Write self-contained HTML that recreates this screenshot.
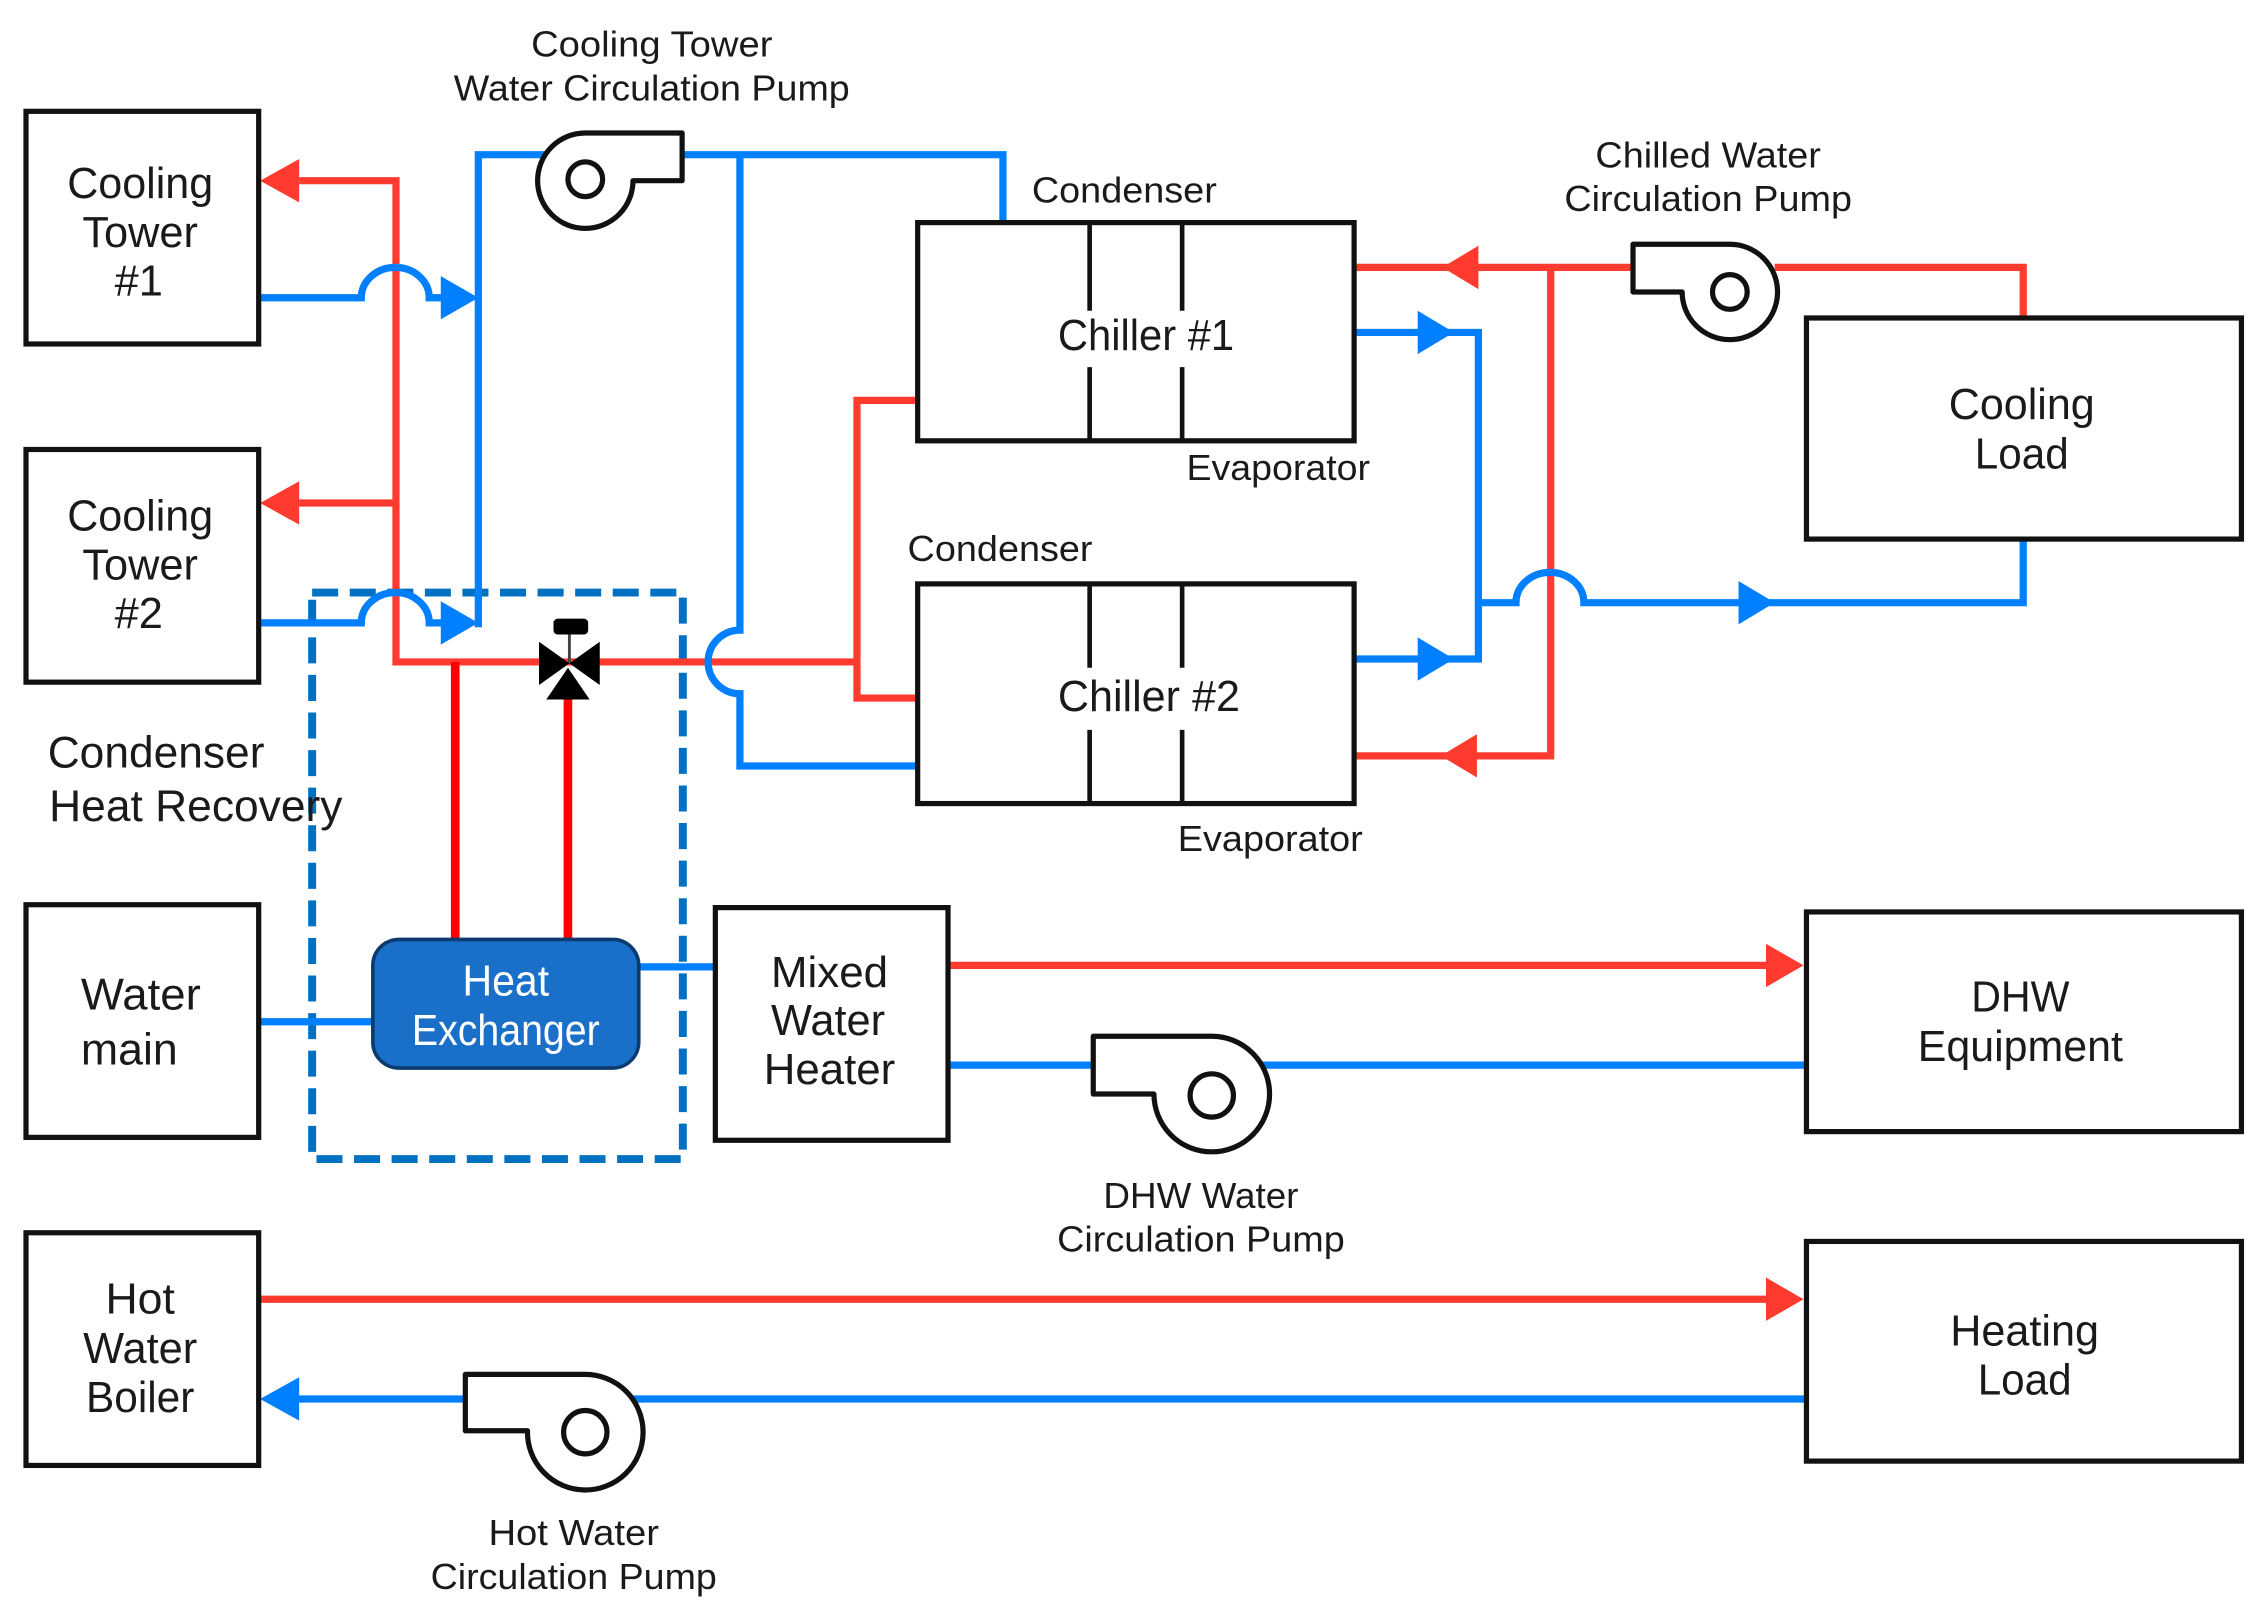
<!DOCTYPE html>
<html>
<head>
<meta charset="utf-8">
<style>
html,body{margin:0;padding:0;background:#fff;}
svg{display:block;}
text{font-family:"Liberation Sans",sans-serif;fill:#1a1a1a;}
.l{font-size:30px;text-anchor:middle;}
.s{font-size:25px;text-anchor:middle;}
.b{fill:#fff;stroke:#111;stroke-width:3.6;}
.blue{fill:none;stroke:#0080ff;stroke-width:5;stroke-linejoin:miter;}
.red{fill:none;stroke:#ff3b30;stroke-width:5;stroke-linejoin:miter;}
.tb{fill:#0080ff;}
.tr{fill:#ff3b30;}
.p{fill:#fff;stroke:#111;stroke-width:3.6;stroke-linejoin:round;}
</style>
</head>
<body>
<svg width="2266" height="1623" viewBox="0 0 1568 1123" xmlns="http://www.w3.org/2000/svg">
<rect x="0" y="0" width="1568" height="1123" fill="#fff"/>

<!-- dashed region -->
<rect x="216" y="410" width="256.500" height="392" fill="none" stroke="#0070c0" stroke-width="5.5" stroke-dasharray="18 8"/>

<!-- red pipes -->
<path class="red" d="M207,125 H274 V458 H593 M207,348 H274 M635,277 H593 V483 H635"/>
<path class="red" d="M937,185 H1130 M1228,185 H1400 V220 M1073,185 V523 H937"/>
<path class="red" d="M656,668 H1224 M179,899 H1224"/>
<path fill="none" stroke="#ff0000" stroke-width="6" d="M315,458 V650 M393,480 V650"/>

<!-- blue pipes -->
<path class="blue" d="M179,206 H250 A23.5,21 0 0 1 297,206 H307"/>
<path class="blue" d="M179,431 H250 A23.5,21 0 0 1 297,431 H307"/>
<path class="blue" d="M331,434 V107 H380 M465,107 H694 V154"/>
<path class="blue" d="M512,107 V436 A22,22 0 0 0 512,480 V530 H635"/>
<path class="blue" d="M937,230 H1023 V456 H937"/>
<path class="blue" d="M1023,417 H1049 A23.5,21 0 0 1 1096,417 H1400 V373"/>
<path class="blue" d="M656,737 H760 M870,737 H1250"/>
<path class="blue" d="M442,669 H495 M179,707 H258"/>
<path class="blue" d="M1250,968 H430 M330,968 H205"/>

<!-- arrowheads -->
<polygon class="tr" points="180,125 207,110 207,140"/>
<polygon class="tr" points="180,348 207,333 207,363"/>
<polygon class="tr" points="998,185 1023,170 1023,200"/>
<polygon class="tr" points="997,523 1022,508 1022,538"/>
<polygon class="tr" points="1248,668 1222,653 1222,683"/>
<polygon class="tr" points="1248,899 1222,884 1222,914"/>
<polygon class="tb" points="331,206 305,191 305,221"/>
<polygon class="tb" points="331,431 305,416 305,446"/>
<polygon class="tb" points="1006,230 981,215 981,245"/>
<polygon class="tb" points="1006,456 981,441 981,471"/>
<polygon class="tb" points="1228,417 1203,402 1203,432"/>
<polygon class="tb" points="180,968 207,953 207,983"/>

<!-- boxes -->
<rect class="b" x="18" y="77" width="161" height="161"/>
<rect class="b" x="18" y="311" width="161" height="161"/>
<rect class="b" x="18" y="626" width="161" height="161"/>
<rect class="b" x="18" y="853" width="161" height="161"/>
<rect class="b" x="495" y="628" width="161" height="161"/>
<rect class="b" x="635" y="154" width="302" height="151"/>
<rect class="b" x="635" y="404" width="302" height="152"/>
<rect class="b" x="1250" y="220" width="301" height="153"/>
<rect class="b" x="1250" y="631" width="301" height="152"/>
<rect class="b" x="1250" y="859" width="301" height="152"/>
<path fill="none" stroke="#111" stroke-width="3.2" d="M754,154 V215 M754,254 V305 M818,154 V215 M818,254 V305 M754,404 V462 M754,505 V556 M818,404 V462 M818,505 V556"/>

<!-- heat exchanger -->
<rect x="258" y="650" width="184" height="89" rx="18" ry="18" fill="#1a70c8" stroke="#0b3a6e" stroke-width="2.5"/>

<!-- valve -->
<line x1="394" y1="438" x2="394" y2="459" stroke="#444" stroke-width="2"/>
<rect x="383" y="428" width="24" height="11" rx="3" fill="#000"/>
<polygon points="373,444 373,474 394,459" fill="#000"/>
<polygon points="415,444 415,474 394,459" fill="#000"/>
<polygon points="378,484 408,484 393,462" fill="#000"/>

<!-- pumps -->
<path class="p" d="M405,92 H472 V125 H438 A33,33 0 1 1 405,92 Z"/>
<circle cx="405" cy="124" r="12" fill="#fff" stroke="#111" stroke-width="3.6"/>
<path class="p" d="M1197,169 H1130 V202 H1164 A33,33 0 1 0 1197,169 Z"/>
<circle cx="1197" cy="202" r="12" fill="#fff" stroke="#111" stroke-width="3.6"/>
<path class="p" d="M838.500,717 H756.500 V757 H798.500 A40,40 0 1 0 838.500,717 Z"/>
<circle cx="838.500" cy="758" r="15" fill="#fff" stroke="#111" stroke-width="3.6"/>
<path class="p" d="M405,951 H322 V990 H365 A40,40 0 1 0 405,951 Z"/>
<circle cx="405" cy="991" r="15" fill="#fff" stroke="#111" stroke-width="3.6"/>

<!-- labels -->
<text class="l" x="97" y="137" textLength="101" lengthAdjust="spacingAndGlyphs">Cooling</text>
<text class="l" x="97" y="171" textLength="80" lengthAdjust="spacingAndGlyphs">Tower</text>
<text class="l" x="96" y="204.500">#1</text>
<text class="l" x="97" y="367" textLength="101" lengthAdjust="spacingAndGlyphs">Cooling</text>
<text class="l" x="97" y="401" textLength="80" lengthAdjust="spacingAndGlyphs">Tower</text>
<text class="l" x="96" y="434.500">#2</text>

<text x="33" y="531" font-size="31" textLength="150" lengthAdjust="spacingAndGlyphs">Condenser</text>
<text x="34" y="568" font-size="31" textLength="203" lengthAdjust="spacingAndGlyphs">Heat Recovery</text>

<text x="56" y="698.500" font-size="31" textLength="83" lengthAdjust="spacingAndGlyphs">Water</text>
<text x="56" y="736.500" font-size="31" textLength="67" lengthAdjust="spacingAndGlyphs">main</text>

<text class="l" x="97" y="909" textLength="48" lengthAdjust="spacingAndGlyphs">Hot</text>
<text class="l" x="97" y="943" textLength="79" lengthAdjust="spacingAndGlyphs">Water</text>
<text class="l" x="97" y="977" textLength="75" lengthAdjust="spacingAndGlyphs">Boiler</text>

<text class="l" x="574" y="683" textLength="81" lengthAdjust="spacingAndGlyphs">Mixed</text>
<text class="l" x="573" y="716" textLength="79" lengthAdjust="spacingAndGlyphs">Water</text>
<text class="l" x="574" y="750" textLength="91" lengthAdjust="spacingAndGlyphs">Heater</text>

<text class="l" x="350" y="689" style="fill:#fff" textLength="60" lengthAdjust="spacingAndGlyphs">Heat</text>
<text class="l" x="350" y="723" style="fill:#fff" textLength="130" lengthAdjust="spacingAndGlyphs">Exchanger</text>

<text class="l" x="793" y="242" textLength="122" lengthAdjust="spacingAndGlyphs">Chiller #1</text>
<text class="l" x="795" y="492" textLength="126" lengthAdjust="spacingAndGlyphs">Chiller #2</text>

<text class="l" x="1399" y="290" textLength="101" lengthAdjust="spacingAndGlyphs">Cooling</text>
<text class="l" x="1399" y="324" textLength="65" lengthAdjust="spacingAndGlyphs">Load</text>
<text class="l" x="1398" y="700" textLength="68" lengthAdjust="spacingAndGlyphs">DHW</text>
<text class="l" x="1398" y="734" textLength="142" lengthAdjust="spacingAndGlyphs">Equipment</text>
<text class="l" x="1401" y="931" textLength="103" lengthAdjust="spacingAndGlyphs">Heating</text>
<text class="l" x="1401" y="965" textLength="65" lengthAdjust="spacingAndGlyphs">Load</text>

<text class="s" x="451" y="39" textLength="167" lengthAdjust="spacingAndGlyphs">Cooling Tower</text>
<text class="s" x="451" y="69.500" textLength="274" lengthAdjust="spacingAndGlyphs">Water Circulation Pump</text>
<text class="s" x="778" y="140" textLength="128" lengthAdjust="spacingAndGlyphs">Condenser</text>
<text class="s" x="884.500" y="332" textLength="127" lengthAdjust="spacingAndGlyphs">Evaporator</text>
<text class="s" x="692" y="388" textLength="128" lengthAdjust="spacingAndGlyphs">Condenser</text>
<text class="s" x="879" y="589" textLength="128" lengthAdjust="spacingAndGlyphs">Evaporator</text>
<text class="s" x="1182" y="116" textLength="156" lengthAdjust="spacingAndGlyphs">Chilled Water</text>
<text class="s" x="1182" y="146" textLength="199" lengthAdjust="spacingAndGlyphs">Circulation Pump</text>
<text class="s" x="831" y="836" textLength="135" lengthAdjust="spacingAndGlyphs">DHW Water</text>
<text class="s" x="831" y="866" textLength="199" lengthAdjust="spacingAndGlyphs">Circulation Pump</text>
<text class="s" x="397" y="1069" textLength="118" lengthAdjust="spacingAndGlyphs">Hot Water</text>
<text class="s" x="397" y="1099.500" textLength="198" lengthAdjust="spacingAndGlyphs">Circulation Pump</text>
</svg>
</body>
</html>
